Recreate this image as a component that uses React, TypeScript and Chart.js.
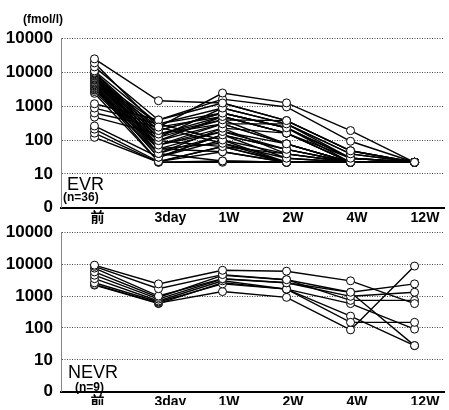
import React, { useEffect, useRef } from 'react';
import { Chart, registerables } from 'chart.js';

Chart.register(...registerables);

// ---- data ----
const CATEGORIES = ['前', '3day', '1W', '2W', '4W', '12W'];
const Y_TICK_VALUES = [1, 10, 100, 1000, 10000, 100000];
const Y_TICK_LABELS = ['0', '10', '100', '1000', '10000', '10000'];
const UNIT_LABEL = '(fmol/l)';
const EVR_TITLE = 'EVR';
const EVR_N = '(n=36)';
const NEVR_TITLE = 'NEVR';
const NEVR_N = '(n=9)';

// each row: one patient, values at 前, 3day, 1W, 2W, 4W, 12W
const EVR_SERIES: number[][] = [
  [25000, 1450, 1240, 375, 48, 22],
  [19000, 240, 2450, 1250, 190, 22],
  [14500, 390, 1620, 950, 92, 22],
  [11000, 300, 880, 300, 39, 22],
  [10000, 190, 625, 230, 29, 22],
  [9500, 150, 495, 160, 22, 22],
  [9000, 120, 395, 375, 48, 22],
  [8500, 96, 300, 300, 29, 22],
  [8000, 71, 224, 160, 22, 22],
  [7600, 55, 178, 77, 22, 22],
  [7000, 40, 142, 53, 22, 22],
  [6800, 300, 100, 39, 22, 22],
  [6300, 240, 80, 29, 22, 22],
  [6000, 190, 625, 230, 22, 22],
  [5800, 150, 395, 77, 22, 22],
  [5300, 120, 880, 300, 39, 22],
  [5000, 96, 64, 22, 22, 22],
  [4800, 71, 178, 53, 22, 22],
  [4500, 55, 45, 22, 22, 22],
  [4300, 40, 224, 39, 22, 22],
  [4000, 31, 142, 29, 22, 22],
  [3800, 31, 100, 22, 22, 22],
  [3500, 23, 64, 22, 22, 22],
  [3300, 96, 495, 160, 29, 22],
  [3100, 71, 300, 77, 22, 22],
  [3000, 55, 80, 22, 22, 22],
  [2700, 40, 24, 22, 22, 22],
  [2400, 23, 45, 22, 22, 22],
  [1180, 390, 1240, 375, 48, 22],
  [880, 300, 625, 230, 29, 22],
  [630, 240, 495, 160, 22, 22],
  [475, 150, 300, 77, 22, 22],
  [260, 31, 142, 53, 22, 22],
  [210, 23, 64, 39, 22, 22],
  [160, 22, 24, 22, 22, 22],
  [120, 22, 22, 22, 22, 22],
];

const NEVR_SERIES: number[][] = [
  [9300, 2400, 6400, 6000, 3000, 580],
  [8500, 1700, 4700, 3250, 1310, 2400],
  [7500, 1000, 3500, 2600, 980, 1310],
  [5700, 900, 4450, 3250, 730, 730],
  [4500, 800, 3400, 2600, 1310, 28],
  [3500, 700, 3000, 1650, 150, 150],
  [2600, 650, 2400, 1650, 580, 92],
  [2300, 600, 1380, 910, 87, 8700],
  [2200, 580, 2600, 1650, 235, 28],
];

// ---- styling ----
const FONT = "'Liberation Sans', Arial, 'Noto Sans CJK JP', sans-serif";
const WIDTH = 449;

type Note = { text: string; x: number; y: number; font: string };

const notesPlugin = {
  id: 'notes',
  afterDraw(chart: any, _args: any, opts: any) {
    const ctx = chart.ctx;
    (opts.items || []).forEach((n: Note) => {
      ctx.save();
      ctx.font = n.font;
      ctx.fillStyle = '#000';
      ctx.textAlign = 'left';
      ctx.textBaseline = 'alphabetic';
      ctx.fillText(n.text, n.x, n.y);
      ctx.restore();
    });
  },
};

function buildConfig(series: number[][], padTop: number, xAxisHeight: number, notes: Note[]): any {
  const datasets: any[] = [];
  series.forEach((row) => {
    const data = row.map((v, j) => ({ x: j, y: v }));
    datasets.push({
      data,
      borderColor: '#000',
      borderWidth: 1.4,
      pointRadius: 0,
      fill: false,
      tension: 0,
      order: 2,
    });
    datasets.push({
      data,
      showLine: false,
      pointRadius: 4,
      pointBackgroundColor: '#fff',
      pointBorderColor: '#000',
      pointBorderWidth: 1,
      order: 1,
    });
  });
  return {
    type: 'line',
    data: { datasets },
    plugins: [notesPlugin],
    options: {
      responsive: false,
      animation: false,
      devicePixelRatio: 1,
      layout: { padding: { top: padTop, left: 0, right: 0, bottom: 0 } },
      plugins: {
        legend: { display: false },
        tooltip: { enabled: false },
        notes: { items: notes },
      },
      scales: {
        x: {
          type: 'linear',
          min: -0.523,
          max: 5.46,
          afterBuildTicks: (s: any) => {
            s.ticks = CATEGORIES.map((_, i) => ({ value: i }));
          },
          afterFit: (s: any) => {
            s.height = xAxisHeight;
            s.paddingLeft = 0;
            s.paddingRight = 0;
          },
          grid: { display: false, drawTicks: false },
          border: { display: true, color: '#000', width: 2 },
          ticks: {
            callback: (v: any) => CATEGORIES[v],
            align: 'start',
            labelOffset: -4,
            padding: 2,
            autoSkip: false,
            maxRotation: 0,
            color: '#000',
            font: { family: FONT, size: 14, weight: 'bold' },
          },
        },
        y: {
          type: 'logarithmic',
          min: 1,
          max: 100000,
          afterBuildTicks: (s: any) => {
            s.ticks = Y_TICK_VALUES.map((v) => ({ value: v, major: true }));
          },
          afterFit: (s: any) => {
            s.width = 61;
          },
          grid: { display: true, drawTicks: false, color: '#444', lineWidth: 1 },
          border: { display: true, color: '#888', width: 1, dash: [1, 1.5] },
          ticks: {
            callback: (_v: any, i: number) => Y_TICK_LABELS[i],
            padding: 8,
            autoSkip: false,
            color: '#000',
            font: { family: FONT, size: 17, weight: 'bold' },
          },
        },
      },
    },
  };
}

function Panel(props: { series: number[][]; top: number; height: number; padTop: number; xAxisHeight: number; notes: Note[] }) {
  const ref = useRef<HTMLCanvasElement>(null);
  useEffect(() => {
    if (!ref.current) return;
    const chart = new Chart(ref.current, buildConfig(props.series, props.padTop, props.xAxisHeight, props.notes));
    return () => chart.destroy();
  }, []);
  return (
    <canvas
      ref={ref}
      width={WIDTH}
      height={props.height}
      style={{ position: 'absolute', left: 0, top: props.top, width: WIDTH, height: props.height, display: 'block' }}
    />
  );
}

export default function App() {
  const topNotes: Note[] = [
    { text: UNIT_LABEL, x: 23, y: 23, font: `bold 12px ${FONT}` },
    { text: EVR_TITLE, x: 67, y: 189.5, font: `18px ${FONT}` },
    { text: EVR_N, x: 63, y: 201, font: `bold 12px ${FONT}` },
  ];
  const bottomNotes: Note[] = [
    { text: NEVR_TITLE, x: 68, y: 164, font: `18px ${FONT}` },
    { text: NEVR_N, x: 75, y: 177, font: `bold 12px ${FONT}` },
  ];
  return (
    <div style={{ position: 'fixed', left: 0, top: 0, width: WIDTH, height: 410, background: '#fff', overflow: 'hidden' }}>
      <Panel series={EVR_SERIES} top={0} height={226} padTop={38.5} xAxisHeight={18.3} notes={topNotes} />
      <Panel series={NEVR_SERIES} top={214} height={196} padTop={12.7} xAxisHeight={13.3} notes={bottomNotes} />
    </div>
  );
}
